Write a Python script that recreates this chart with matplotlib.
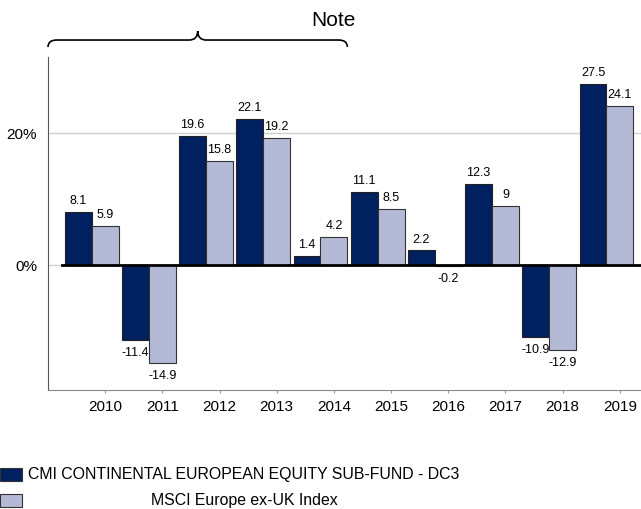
import matplotlib.pyplot as plt
from matplotlib.path import Path
from matplotlib.patches import PathPatch, Rectangle

plt.rcParams['font.family'] = ['Liberation Sans', 'DejaVu Sans']

# Дані
years = ['2010', '2011', '2012', '2013', '2014', '2015', '2016', '2017', '2018', '2019']
fund = [8.1, -11.4, 19.6, 22.1, 1.4, 11.1, 2.2, 12.3, -10.9, 27.5]
index = [5.9, -14.9, 15.8, 19.2, 4.2, 8.5, -0.2, 9, -12.9, 24.1]
labels = ['CMI CONTINENTAL EUROPEAN EQUITY SUB-FUND - DC3', 'MSCI Europe ex-UK Index']
colors = ['#002060', '#b4b9d5']

fig = plt.figure(figsize=(6.41, 5.09), dpi=100)
ax = fig.add_axes([0.0749, 0.2338, 0.9251, 0.6542])

w = 0.47
x = list(range(len(years)))
x_fund = [i - w for i in x]

ax.bar(x_fund, fund, width=w, color=colors[0], edgecolor='#222222', linewidth=0.8, zorder=3)
ax.bar(x, index, width=w, color=colors[1], edgecolor='#333333', linewidth=0.8, zorder=3)

def fmt(v):
    return f'{v:g}'

for xs, vals in [(x_fund, fund), (x, index)]:
    for xi, v in zip(xs, vals):
        if v >= 0:
            ax.annotate(fmt(v), (xi, v), xytext=(0, 3.5), textcoords='offset points',
                        ha='center', va='bottom', fontsize=9, zorder=5)
        else:
            ax.annotate(fmt(v), (xi, v), xytext=(0, -5), textcoords='offset points',
                        ha='center', va='top', fontsize=9, zorder=5)

ax.set_xlim(-1, 9.37)
ax.set_ylim(-18.94, 31.52)
ax.set_yticks([0, 20])
ax.set_yticklabels(['0%', '20%'], fontsize=11)
ax.set_xticks(x)
ax.set_xticklabels(years, fontsize=11)
ax.tick_params(axis='y', length=0, pad=8)
ax.tick_params(axis='x', length=2, color='#999999', pad=5)

ax.yaxis.grid(True, color='#d0d0d0', linewidth=1, zorder=0)
ax.set_axisbelow(True)
ax.axhline(0, xmin=14 / 593, color='black', linewidth=2, zorder=4)

for s in ['top', 'right']:
    ax.spines[s].set_visible(False)
ax.spines['left'].set_color('#555555')
ax.spines['bottom'].set_color('#888888')

# Фігурна дужка "Note"
tr = ax.get_xaxis_transform()
x0, x1 = -1, 4 + w / 2
xc = (x0 + x1) / 2
r = 0.15
y_end, y_mid, y_top = 1.030, 1.051, 1.078
verts = [(x0, y_end), (x0, y_mid), (x0 + r, y_mid),
         (xc - r, y_mid), (xc, y_mid), (xc, y_top),
         (xc, y_mid), (xc + r, y_mid),
         (x1 - r, y_mid), (x1, y_mid), (x1, y_end)]
codes = [Path.MOVETO, Path.CURVE3, Path.CURVE3,
         Path.LINETO, Path.CURVE3, Path.CURVE3,
         Path.CURVE3, Path.CURVE3,
         Path.LINETO, Path.CURVE3, Path.CURVE3]
ax.add_patch(PathPatch(Path(verts, codes), transform=tr, fill=False,
                       edgecolor='black', linewidth=1.2, clip_on=False))
fig.text(333 / 641, 1 - 20 / 509, 'Note', fontsize=15, ha='center', va='center')

# Легенда
for k, (lab, c) in enumerate(zip(labels, colors)):
    yb = 1 - (481 + 26 * k) / 509
    fig.patches.append(Rectangle((0, yb), 22 / 641, 13 / 509, transform=fig.transFigure,
                                 facecolor=c, edgecolor='#333333', linewidth=0.8))
    fig.text(244 / 641, yb + 6.5 / 509, lab, fontsize=11.4, ha='center', va='center')

plt.savefig('out.png', dpi=100)
